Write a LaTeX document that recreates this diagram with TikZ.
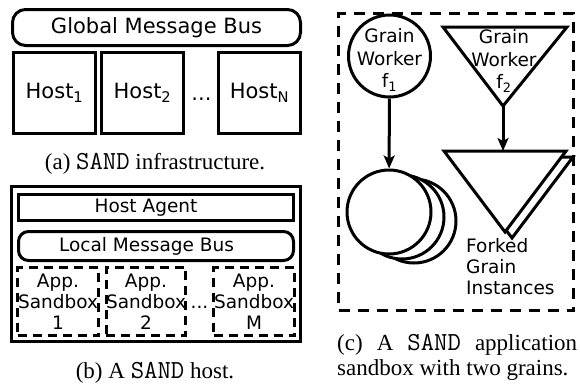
\documentclass[tikz,border=0pt]{standalone}
\usepackage{fontspec}
\setmainfont{Liberation Serif}
\setsansfont{DejaVu Sans}
\usetikzlibrary{arrows.meta}
\newcommand{\sandname}{{\fontsize{26}{25}\selectfont\ttfamily SAND}}
\begin{document}
\begin{tikzpicture}[x=1pt,y=-1pt,
  lw/.style={line width=3pt},
  box/.style={draw, lw, inner sep=0pt, fill=white},
  dbox/.style={draw, lw, inner sep=0pt, dash pattern=on 9pt off 6pt},
  big/.style={font=\sffamily\fontsize{21}{24}\selectfont},
  txt/.style={font=\sffamily\fontsize{18.5}{21}\selectfont, align=center},
  gtxt/.style={font=\sffamily\fontsize{18.5}{22.5}\selectfont, align=center},
  captext/.style={font=\rmfamily\fontsize{23}{25}\selectfont},
  arr/.style={lw, -{Stealth[length=13pt,width=11pt,inset=3pt]}}]
\useasboundingbox (0,0) rectangle (580,383);
% (a)
\node[box, big, rounded corners=13pt, minimum width=288, minimum height=36] (gbus) at (156.5,27.5) {Global Message Bus};
\node[box, big, minimum width=82, minimum height=81] (h1) at (54.5,93) {Host\textsubscript{1}};
\node[box, big, minimum width=82, minimum height=81] (h2) at (142.5,93) {Host\textsubscript{2}};
\node[box, big, minimum width=82, minimum height=81] (hn) at (259.5,93) {Host\textsubscript{N}};
\node[big, inner sep=0pt, anchor=base] (hdots) at (201.5,100) {...};
\node[captext, anchor=base] (capa) at (155,169) {(a) \sandname{} infrastructure.};
% (b)
\node[box, minimum width=289, minimum height=155] (host) at (156,264) {};
\node[box, minimum width=275, minimum height=26] (agent) at (156,207.5) {};
\node[txt] (agenttext) at (146,207.5) {Host Agent};
\node[box, rounded corners=10pt, minimum width=275, minimum height=29] (lbus) at (156,246) {};
\node[txt] (lbustext) at (146.5,246) {Local Message Bus};
\node[dbox, txt, minimum width=81, minimum height=68] (sb1) at (58,301.5) {App.\\Sandbox\\1};
\node[dbox, txt, minimum width=79, minimum height=68] (sb2) at (146,301.5) {App.\\Sandbox\\2};
\node[dbox, txt, minimum width=81, minimum height=68] (sbm) at (254,301.5) {App.\\Sandbox\\M};
\node[txt, inner sep=0pt, anchor=base] (sdots) at (199.5,308) {...};
\node[captext, anchor=base] (capb) at (155,378) {(b) A \sandname{} host.};
% (c)
\node[dbox, dash pattern=on 11pt off 8pt, minimum width=235, minimum height=297] (sandbox) at (456,162) {};
\node[draw, lw, circle, inner sep=0pt, minimum size=82] (f1) at (389.5,56) {};
\node[gtxt] (f1text) at (389.5,60) {Grain\\Worker\\f\textsubscript{1}};
\draw[lw, line join=miter] (443,27) coordinate (t1) -- (567,27) coordinate (t2) -- (503,106) coordinate (f2apex) -- cycle;
\node[gtxt] (f2) at (504,61) {Grain\\Worker\\f\textsubscript{2}};
% forked instances
\node[draw, lw, circle, fill=white, minimum size=84] (c3) at (414,221) {};
\node[draw, lw, circle, fill=white, minimum size=84] (c2) at (402,217) {};
\node[draw, lw, circle, fill=white, minimum size=84] (c1) at (389,212) {};
\draw[lw, fill=white] (451,157) -- (573,157) -- (512,238) -- cycle;
\draw[lw, fill=white] (444,151) coordinate (bt1) -- (566,151) -- (505,232) -- cycle;
\coordinate (bigtop) at (503,151);
\node[txt, align=left, anchor=north west, inner sep=0pt] (forked) at (466,238) {Forked\\Grain\\Instances};
\draw[arr] (f1) -- (c1);
\draw[arr] (f2apex) -- (bigtop);
\node[captext, text width=240, align=justify, inner sep=0pt, anchor=base west] (capc) at (337,350) {(c) A \sandname{} application sandbox with two grains.};
\end{tikzpicture}
\end{document}
